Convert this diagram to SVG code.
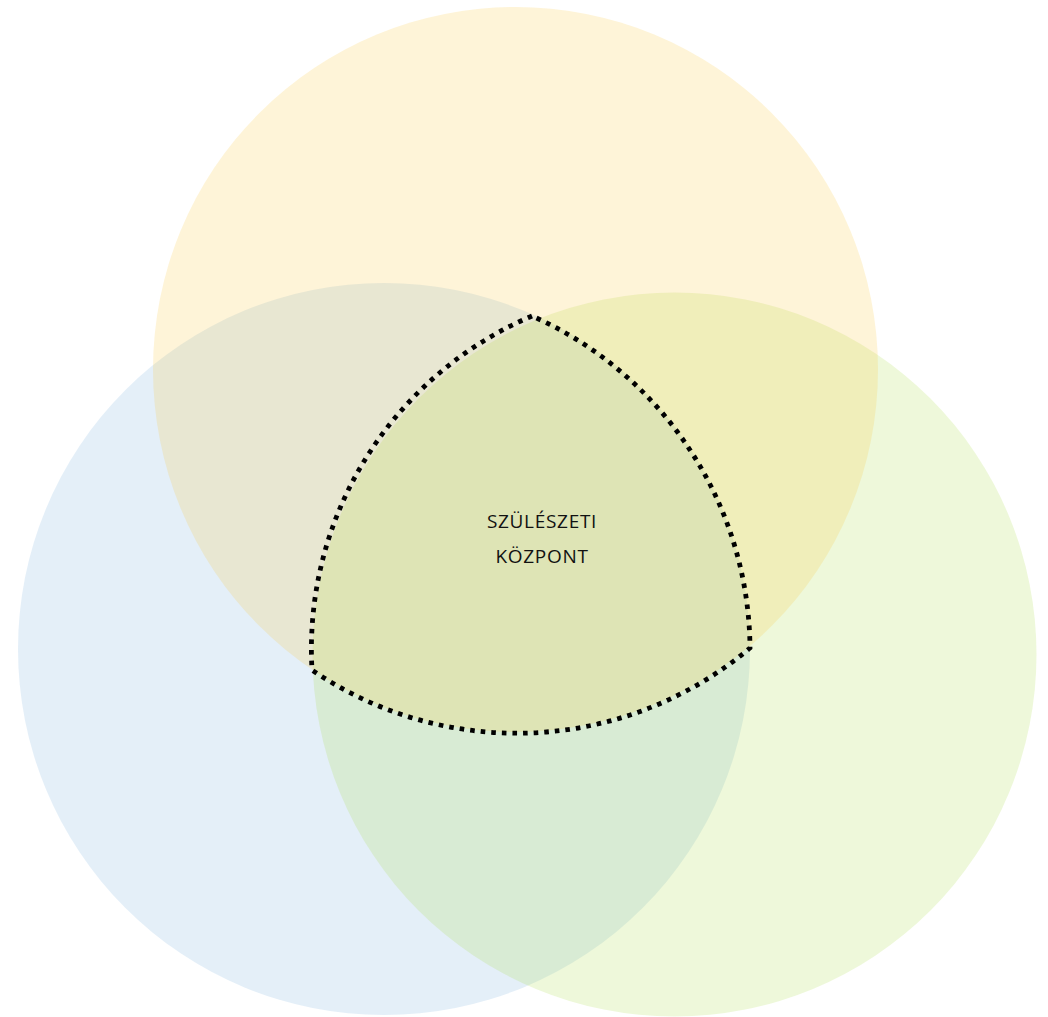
<svg xmlns="http://www.w3.org/2000/svg" width="1048" height="1017" viewBox="0 0 1048 1017">
  <style>
    .c { fill-opacity: 0.2; stroke: none; }
    .lbl { font-family: "Open Sans", "Noto Sans", sans-serif; font-size: 19px; letter-spacing: 0.7px; fill: #111; text-anchor: middle; }
    .dot { fill: none; stroke: #000; stroke-width: 4.8; stroke-dasharray: 4.6 6; }
  </style>
  <rect width="1048" height="1017" fill="#ffffff"/>
  <g id="circle-blue"><circle class="c" cx="384" cy="649" r="366" fill="#78afdc"/></g>
  <g id="circle-green"><circle class="c" cx="674.5" cy="654.5" r="362" fill="#aadd44"/></g>
  <g id="circle-yellow"><circle class="c" cx="515.5" cy="369.5" r="362.5" fill="#fac83c"/></g>
  <g id="connectors">
    <path class="dot" d="M 532 316 A 362 362 0 0 0 312 670 A 362.5 362.5 0 0 0 750 648 A 366 366 0 0 0 532 316 Z"/>
  </g>
  <g id="node-center">
    <text class="lbl" x="542" y="528">SZÜLÉSZETI</text>
    <text class="lbl" x="542" y="563">KÖZPONT</text>
  </g>
</svg>
